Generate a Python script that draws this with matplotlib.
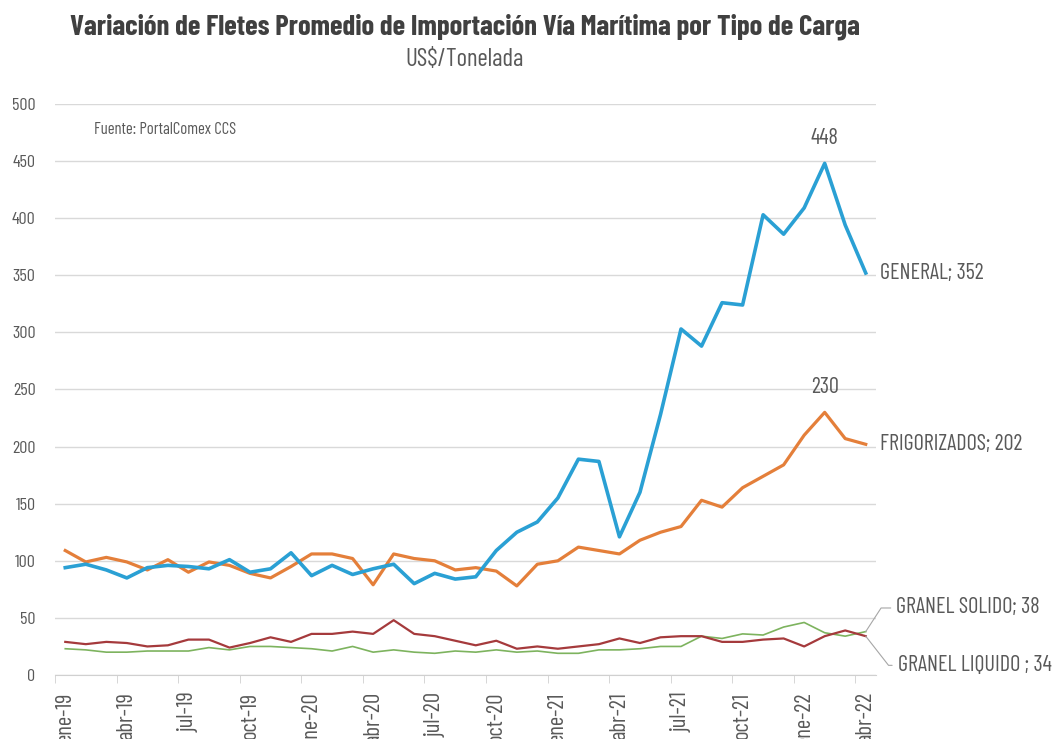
import matplotlib
matplotlib.use("Agg")
import matplotlib.pyplot as plt
import numpy as np

plt.rcParams['font.family'] = ['Barlow Condensed', 'DejaVu Sans']

# ---- data ----
n_months = 40
tick_labels = ['ene-19', 'abr-19', 'jul-19', 'oct-19', 'ene-20', 'abr-20', 'jul-20',
               'oct-20', 'ene-21', 'abr-21', 'jul-21', 'oct-21', 'ene-22', 'abr-22']

general = [94, 97, 92, 85, 94, 96, 95, 93, 101, 90, 93, 107,
           87, 96, 88, 93, 97, 80, 89, 84, 86, 109, 125, 134,
           155, 189, 187, 121, 160, 228, 303, 288, 326, 324, 403, 386, 409, 448, 394, 352]
frigorizados = [109, 99, 103, 99, 92, 101, 90, 99, 96, 89, 85, 95,
                106, 106, 102, 79, 106, 102, 100, 92, 94, 91, 78, 97,
                100, 112, 109, 106, 118, 125, 130, 153, 147, 164, 174, 184, 210, 230, 207, 202]
granel_liquido = [29, 27, 29, 28, 25, 26, 31, 31, 24, 28, 33, 29,
                  36, 36, 38, 36, 48, 36, 34, 30, 26, 30, 23, 25,
                  23, 25, 27, 32, 28, 33, 34, 34, 29, 29, 31, 32, 25, 34, 39, 34]
granel_solido = [23, 22, 20, 20, 21, 21, 21, 24, 22, 25, 25, 24,
                 23, 21, 25, 20, 22, 20, 19, 21, 20, 22, 20, 21,
                 19, 19, 22, 22, 23, 25, 25, 34, 32, 36, 35, 42, 46, 37, 34, 38]

title = "Variación de Fletes Promedio de Importación Vía Marítima por Tipo de Carga"
subtitle = "US$/Tonelada"
source = "Fuente: PortalComex CCS"

c_blue = '#2aa0d4'
c_orange = '#e47f3a'
c_red = '#a53a3c'
c_green = '#7db35e'
c_text = '#595959'
c_grid = '#d9d9d9'

W, H = 1054, 739
fig = plt.figure(figsize=(W / 100, H / 100), dpi=100)
ax = fig.add_axes([55 / W, 1 - 675 / H, (876 - 55) / W, (675 - 104) / H])

x = np.arange(n_months)
ax.plot(x, granel_solido, color=c_green, lw=1.2, zorder=3)
ax.plot(x, granel_liquido, color=c_red, lw=1.6, zorder=3)
ax.plot(x, frigorizados, color=c_orange, lw=2.3, zorder=4)
ax.plot(x, general, color=c_blue, lw=2.6, zorder=5)

ax.set_xlim(-0.5, n_months - 0.5)
ax.set_ylim(0, 500)
ax.set_yticks(np.arange(0, 501, 50))
ax.yaxis.grid(True, color=c_grid, lw=1)
ax.set_axisbelow(True)
for s in ['top', 'right', 'left']:
    ax.spines[s].set_visible(False)
ax.spines['bottom'].set_color('#d0d0d0')
ax.tick_params(axis='y', length=0, pad=14, labelsize=13, labelcolor=c_text)

ax.set_xticks(np.arange(0, n_months, 3))
ax.set_xticklabels(tick_labels, rotation=90, va='top', ha='center')
ax.set_xticks(np.arange(-0.5, n_months, 3), minor=True)
ax.tick_params(axis='x', which='major', length=0, pad=12, labelsize=16.5, labelcolor=c_text)
ax.tick_params(axis='x', which='minor', length=6, color='#d0d0d0')

# annotations
lab_kw = dict(fontsize=16, color=c_text, textcoords='offset points')
i_max = int(np.argmax(general))
ax.annotate(str(general[i_max]), (i_max, general[i_max]), xytext=(0, 10),
            ha='center', va='bottom', **lab_kw)
j_max = int(np.argmax(frigorizados))
ax.annotate(str(frigorizados[j_max]), (j_max, frigorizados[j_max]), xytext=(0, 10),
            ha='center', va='bottom', **lab_kw)

last = n_months - 1
ax.annotate(f"GENERAL; {general[-1]}", (last, general[-1]), xytext=(10, 0),
            ha='left', va='center', annotation_clip=False, **lab_kw)
ax.annotate(f"FRIGORIZADOS; {frigorizados[-1]}", (last, frigorizados[-1]), xytext=(10, 0),
            ha='left', va='center', annotation_clip=False, **lab_kw)
ax.annotate(f"GRANEL SOLIDO; {granel_solido[-1]}", (last, granel_solido[-1]), xytext=(22, 17),
            ha='left', va='center', annotation_clip=False,
            arrowprops=dict(arrowstyle='-', color='#a6a6a6', lw=0.8, shrinkA=2, shrinkB=0,
                            connectionstyle='angle,angleA=0,angleB=57,rad=0'), **lab_kw)
ax.annotate(f"GRANEL LIQUIDO ; {granel_liquido[-1]}", (last, granel_liquido[-1]), xytext=(23, -21),
            ha='left', va='center', annotation_clip=False,
            arrowprops=dict(arrowstyle='-', color='#a6a6a6', lw=0.8, shrinkA=2, shrinkB=0,
                            connectionstyle='angle,angleA=0,angleB=-52,rad=0'), **lab_kw)

ax.text(0.047, 0.955, source, transform=ax.transAxes, fontsize=12, color=c_text,
        ha='left', va='center')

fig.text(465 / W, 1 - 27 / H, title, ha='center', va='center', fontsize=20.7,
         fontweight='bold', color='#404040')
fig.text(465 / W, 1 - 60 / H, subtitle, ha='center', va='center', fontsize=18,
         color=c_text)

fig.savefig('out.png', dpi=100)
